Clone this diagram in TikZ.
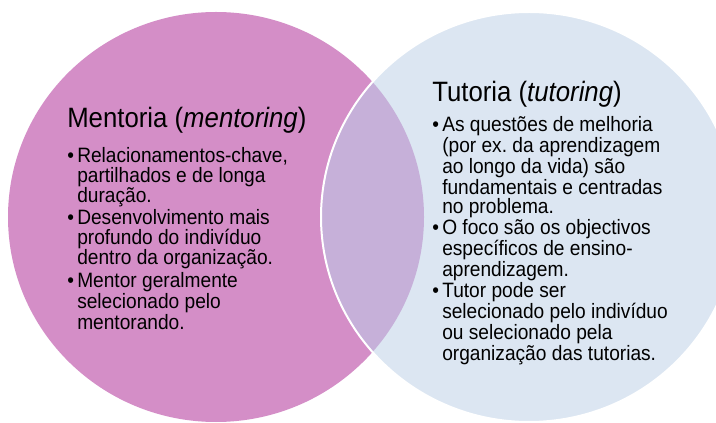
\documentclass[tikz,border=0pt]{standalone}
\usepackage{fontspec}
\setmainfont{Liberation Sans}[FakeStretch=0.92]
\frenchspacing
\definecolor{mentorpink}{RGB}{212,142,199}
\definecolor{overlaplilac}{RGB}{198,176,217}
\definecolor{tutorblue}{RGB}{220,230,242}
\tikzset{
  heading/.style={anchor=base west, inner sep=0pt, font=\fontsize{21}{21}\selectfont},
  listitem/.style={anchor=base west, inner sep=0pt, font=\fontsize{15.6}{14.4}\selectfont},
}
\newcommand{\bul}{\llap{\textbullet\hspace{2.4pt}}}
\newcommand{\itembox}[1]{\parbox[t]{190pt}{\raggedright\noindent\bul #1}}

\begin{document}
\begin{tikzpicture}[x=0.75pt,y=0.75pt,yscale=-1,xscale=1]
\clip (0,0) rectangle (716,423);
\fill [white] (0,0) rectangle (716,423);

%Shape: Ellipse (mentoria)
\fill [mentorpink] (216,217) ellipse [x radius=208, y radius=205];
%Shape: Ellipse (tutoria)
\fill [tutorblue] (529,217) ellipse [x radius=208, y radius=205];
%Overlap
\begin{scope}
\clip (216,217) ellipse [x radius=208, y radius=205];
\fill [overlaplilac] (529,217) ellipse [x radius=208, y radius=205];
\end{scope}
\draw [white, line width=1.5] (529,217) ellipse [x radius=208, y radius=205];

% Text Node
\node [heading] (mtitle) at (67,128) {Mentoria (\textit{mentoring})};
% Text Node
\node [listitem] (m1) at (77,163) {\itembox{Relacionamentos-chave,\\partilhados e de longa\\duração.}};
% Text Node
\node [listitem] (m2) at (77,225) {\itembox{Desenvolvimento mais\\profundo do indivíduo\\dentro da organização.}};
% Text Node
\node [listitem] (m3) at (77,288) {\itembox{Mentor geralmente\\selecionado pelo\\mentorando.}};

% Text Node
\node [heading] (ttitle) at (432,102) {Tutoria (\textit{tutoring})};
% Text Node
\node [listitem] (t1) at (442,132) {\itembox{As questões de melhoria\\(por ex. da aprendizagem\\ao longo da vida) são\\fundamentais e centradas\\no problema.}};
% Text Node
\node [listitem] (t2) at (442,235) {\itembox{O foco são os objectivos\\específicos de ensino-\\aprendizagem.}};
% Text Node
\node [listitem] (t3) at (442,298) {\itembox{Tutor pode ser\\selecionado pelo indivíduo\\ou selecionado pela\\organização das tutorias.}};

\end{tikzpicture}
\end{document}
